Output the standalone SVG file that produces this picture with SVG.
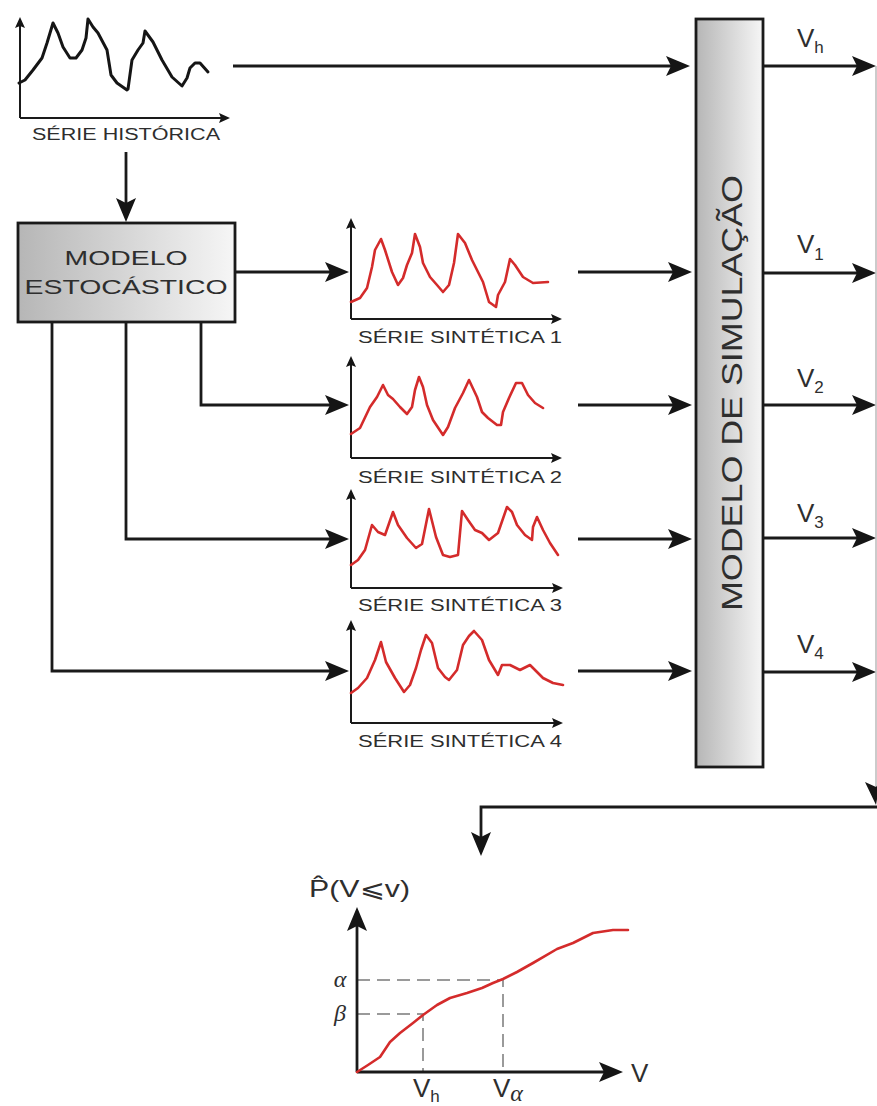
<svg xmlns="http://www.w3.org/2000/svg" width="877" height="1106" viewBox="0 0 877 1106">
<style>
.ln{fill:none;stroke:#1a1a1a;stroke-width:2.8}
.ax{fill:none;stroke:#1a1a1a;stroke-width:2}
.red{fill:none;stroke:#d42b2b;stroke-width:2.6;stroke-linejoin:round;stroke-linecap:round}
.blk{fill:none;stroke:#151515;stroke-width:3;stroke-linejoin:round;stroke-linecap:round}
.dash{fill:none;stroke:#9a9a9a;stroke-width:2;stroke-dasharray:13 7}
.box{stroke:#1a1a1a;stroke-width:2.8}
.t{font-family:"Liberation Sans",Arial,sans-serif;fill:#2e2e2e}
.cap{font-size:16px}
.v{font-size:26px}
.sub{font-size:17px}
.gk{font-family:"Liberation Serif","DejaVu Serif",serif;font-style:italic;font-size:24px;fill:#2e2e2e}
</style>
<defs>
<linearGradient id="g1" x1="0" y1="0" x2="1" y2="0">
<stop offset="0" stop-color="#b6b6b6"/><stop offset="1" stop-color="#f6f6f6"/>
</linearGradient>
<marker id="ah" markerUnits="userSpaceOnUse" markerWidth="24" markerHeight="22" viewBox="0 0 24 22" refX="16" refY="11" orient="auto">
<path d="M0,1 L24,11 L0,21 L5,11 Z" fill="#151515"/>
</marker>
<marker id="sa" markerUnits="userSpaceOnUse" markerWidth="11" markerHeight="10" viewBox="0 0 11 10" refX="7" refY="5" orient="auto">
<path d="M0,0 L11,5 L0,10 L2,5 Z" fill="#151515"/>
</marker>
</defs>

<g id="serie-historica">
<polyline class="ax" points="20,118 20,21" marker-end="url(#sa)"/>
<polyline class="ax" points="20,118 226,118" marker-end="url(#sa)"/>
<polyline class="blk" points="19,83 25,80 33,70 42,58 47,43 53,23 58,33 63,47 70,58 76,58 82,50 86,38 88,19 93,27 98,33 107,50 111,75 117,83 127,90 128,89 132,60 138,50 143,43 145,31 153,42 162,60 172,77 182,86 187,78 190,68 195,63 200,63 208,72"/>
<text class="t cap" x="32" y="140" textLength="188" lengthAdjust="spacingAndGlyphs">SÉRIE HISTÓRICA</text>
</g>

<g id="modelo-estocastico">
<rect class="box" x="18" y="223" width="217" height="99" fill="url(#g1)"/>
<text class="t" x="126" y="265" font-size="21" text-anchor="middle" textLength="123" lengthAdjust="spacingAndGlyphs">MODELO</text>
<text class="t" x="126" y="294" font-size="21" text-anchor="middle" textLength="203" lengthAdjust="spacingAndGlyphs">ESTOCÁSTICO</text>
</g>

<g id="serie-sintetica-1">
<polyline class="ax" points="351,319 351,222" marker-end="url(#sa)"/>
<polyline class="ax" points="351,319 558,319" marker-end="url(#sa)"/>
<polyline class="red" points="351,302 360,298 367,288 372,267 375,250 381,239 385,250 392,272 398,285 403,278 407,265 412,253 415,234 420,247 423,263 430,277 437,285 443,292 449,285 454,263 458,234 465,243 472,260 478,272 483,282 489,302 496,307 498,295 505,282 510,259 515,265 523,277 533,283 548,282"/>
<text class="t cap" x="358" y="343" textLength="204" lengthAdjust="spacingAndGlyphs">SÉRIE SINTÉTICA 1</text>
</g>

<g id="serie-sintetica-2">
<polyline class="ax" points="351,458 351,360" marker-end="url(#sa)"/>
<polyline class="ax" points="351,458 558,458" marker-end="url(#sa)"/>
<polyline class="red" points="351,434 360,428 370,407 377,397 383,385 388,395 393,399 400,407 407,414 412,407 415,390 419,377 423,387 427,405 433,420 443,435 448,427 455,408 463,393 469,380 477,397 482,412 488,418 497,425 501,425 503,412 509,398 516,383 522,383 528,395 535,403 543,408"/>
<text class="t cap" x="358" y="483" textLength="204" lengthAdjust="spacingAndGlyphs">SÉRIE SINTÉTICA 2</text>
</g>

<g id="serie-sintetica-3">
<polyline class="ax" points="351,588 351,493" marker-end="url(#sa)"/>
<polyline class="ax" points="351,588 559,588" marker-end="url(#sa)"/>
<polyline class="red" points="351,565 358,560 365,550 372,525 378,532 385,535 393,512 398,525 407,538 416,548 422,544 429,509 436,537 443,555 450,557 458,555 462,511 468,520 475,530 482,533 489,540 498,533 507,507 512,512 517,525 525,535 532,540 533,527 537,517 543,530 550,543 558,555"/>
<text class="t cap" x="358" y="611" textLength="204" lengthAdjust="spacingAndGlyphs">SÉRIE SINTÉTICA 3</text>
</g>

<g id="serie-sintetica-4">
<polyline class="ax" points="351,723 351,624" marker-end="url(#sa)"/>
<polyline class="ax" points="351,723 559,723" marker-end="url(#sa)"/>
<polyline class="red" points="351,693 358,688 367,678 375,660 381,642 386,662 395,678 404,692 410,685 416,668 421,650 426,635 432,643 438,668 445,677 449,680 457,670 463,645 469,636 474,631 482,640 489,660 498,675 502,665 510,665 520,670 530,665 535,670 543,678 553,683 563,685"/>
<text class="t cap" x="358" y="747" textLength="204" lengthAdjust="spacingAndGlyphs">SÉRIE SINTÉTICA 4</text>
</g>

<g id="modelo-simulacao">
<rect class="box" x="696" y="19" width="67" height="748" fill="url(#g1)"/>
<text class="t" transform="translate(742,393) rotate(-90)" x="0" y="0" font-size="30" text-anchor="middle" textLength="436" lengthAdjust="spacingAndGlyphs">MODELO DE SIMULAÇÃO</text>
</g>

<g id="connectors">
<line class="ln" x1="126" y1="152" x2="126" y2="214" marker-end="url(#ah)"/>
<line class="ln" x1="233" y1="66" x2="682" y2="66" marker-end="url(#ah)"/>
<line class="ln" x1="235" y1="272" x2="341" y2="272" marker-end="url(#ah)"/>
<polyline class="ln" points="201,322 201,405 341,405" marker-end="url(#ah)"/>
<polyline class="ln" points="126,322 126,539 341,539" marker-end="url(#ah)"/>
<polyline class="ln" points="52,322 52,671 341,671" marker-end="url(#ah)"/>
<line class="ln" x1="578" y1="272" x2="684" y2="272" marker-end="url(#ah)"/>
<line class="ln" x1="578" y1="405" x2="684" y2="405" marker-end="url(#ah)"/>
<line class="ln" x1="578" y1="539" x2="684" y2="539" marker-end="url(#ah)"/>
<line class="ln" x1="578" y1="671" x2="684" y2="671" marker-end="url(#ah)"/>
<line class="ln" x1="763" y1="66" x2="868" y2="66" marker-end="url(#ah)"/>
<line class="ln" x1="763" y1="273" x2="868" y2="273" marker-end="url(#ah)"/>
<line class="ln" x1="763" y1="405" x2="868" y2="405" marker-end="url(#ah)"/>
<line class="ln" x1="763" y1="538" x2="868" y2="538" marker-end="url(#ah)"/>
<line class="ln" x1="763" y1="672" x2="868" y2="672" marker-end="url(#ah)"/>
<line x1="876" y1="66" x2="876" y2="795" stroke="#a8a8a8" stroke-width="1.2"/>
<path d="M865,782 L876,805 L880,782 L876,787 Z" fill="#151515"/>
<polyline class="ln" points="877,807 481,807 481,848" marker-end="url(#ah)"/>
<text class="t v" x="797" y="47">V<tspan class="sub" dy="6">h</tspan></text>
<text class="t v" x="797" y="253">V<tspan class="sub" dy="7">1</tspan></text>
<text class="t v" x="797" y="387">V<tspan class="sub" dy="6">2</tspan></text>
<text class="t v" x="797" y="522">V<tspan class="sub" dy="6">3</tspan></text>
<text class="t v" x="797" y="653">V<tspan class="sub" dy="6">4</tspan></text>
</g>

<g id="grafico-probabilidade">
<polyline class="dash" points="357,980 503,980 503,1072"/>
<polyline class="dash" points="357,1014 423,1014 423,1072"/>
<line class="ln" x1="357" y1="1072" x2="357" y2="915" marker-end="url(#ah)"/>
<line class="ln" x1="357" y1="1072" x2="615" y2="1072" marker-end="url(#ah)"/>
<polyline class="red" points="357,1072 368,1065 380,1057 390,1042 400,1033 413,1023 423,1015 437,1005 450,998 467,993 482,988 493,983 503,979 517,972 533,963 557,949 573,943 593,933 613,930 628,930"/>
<text class="t" x="309" y="897" font-size="24" textLength="101" lengthAdjust="spacingAndGlyphs">P̂(V<tspan font-family="DejaVu Sans,sans-serif">⩽</tspan>v)</text>
<text class="gk" x="340" y="987" text-anchor="middle">α</text>
<text class="gk" x="340" y="1021" text-anchor="middle">β</text>
<text class="t v" x="631" y="1082">V</text>
<text class="t v" x="413" y="1097">V<tspan class="sub" dy="5">h</tspan></text>
<text class="t v" x="493" y="1097">V<tspan class="gk" font-size="20" dy="4">α</tspan></text>
</g>
</svg>
